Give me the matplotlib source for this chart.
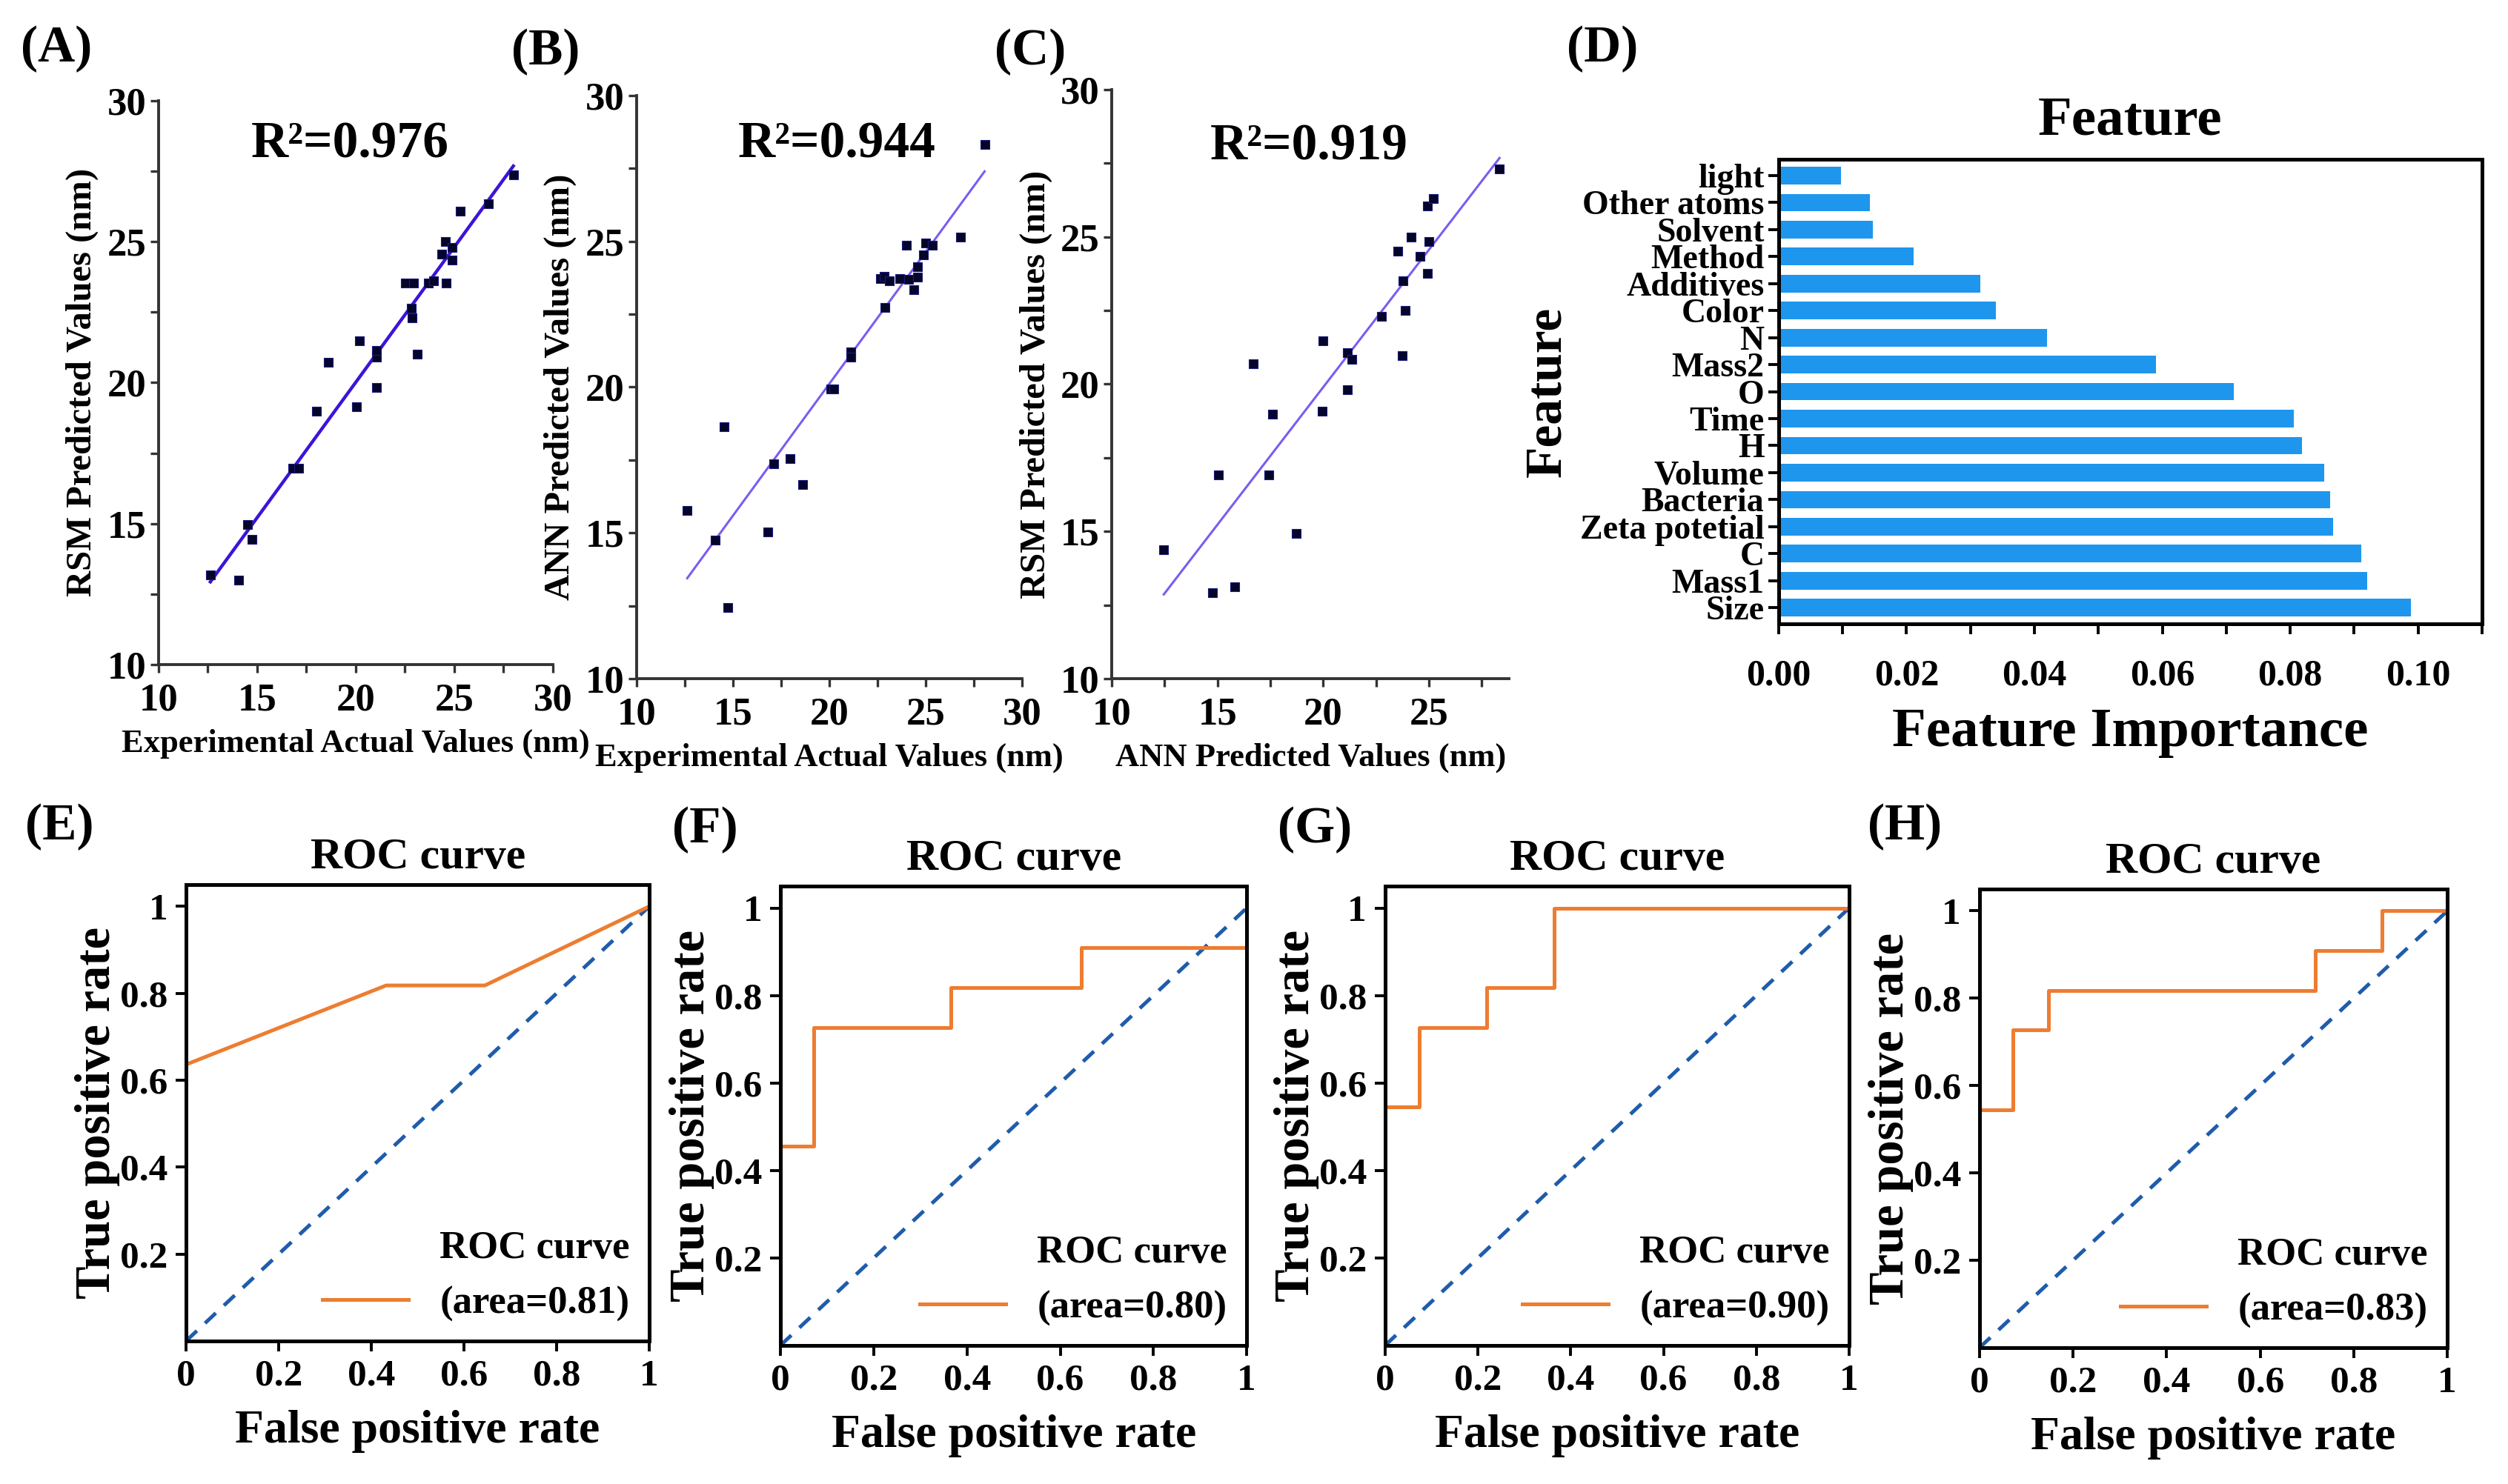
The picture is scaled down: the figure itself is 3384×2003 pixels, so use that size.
import numpy as np
import matplotlib
matplotlib.use("Agg")
import matplotlib.pyplot as plt
from matplotlib.ticker import MultipleLocator, FuncFormatter

plt.rcParams['font.family'] = ['Liberation Serif', 'DejaVu Serif']
plt.rcParams['font.weight'] = 'bold'
plt.rcParams['axes.labelweight'] = 'bold'
plt.rcParams['axes.titleweight'] = 'bold'

# ---- regression panels (A-C) ----
a_x = [12.63, 14.05, 14.53, 14.74, 16.81, 17.10, 18.02, 18.60, 20.04, 20.19, 21.07, 21.07,
       21.07, 22.53, 22.92, 22.82, 22.86, 23.11, 23.68, 23.97, 24.58, 24.36, 24.55, 24.88,
       24.91, 25.32, 26.74, 28.00]
a_y = [13.18, 12.99, 14.96, 14.43, 16.96, 16.96, 18.99, 20.73, 19.13, 21.48, 19.83, 20.90,
       21.13, 23.53, 23.53, 22.64, 22.30, 21.00, 23.53, 23.62, 23.53, 24.56, 25.00, 24.78,
       24.35, 26.09, 26.35, 27.36]

b_x = [12.63, 14.09, 14.55, 14.72, 16.83, 17.12, 17.98, 18.62, 20.08, 20.25, 21.12, 21.12,
       22.67, 22.84, 23.13, 22.88, 23.65, 24.00, 24.13, 24.37, 24.56, 24.59, 24.90, 24.99,
       25.33, 26.82, 28.06]
b_y = [15.77, 14.76, 18.64, 12.44, 15.02, 17.37, 17.54, 16.67, 19.93, 19.93, 21.20, 21.03,
       23.72, 23.80, 23.65, 22.73, 23.72, 24.87, 23.69, 23.35, 24.14, 23.77, 24.53, 24.95,
       24.87, 25.15, 28.32]

c_x = [12.46, 14.78, 15.06, 15.82, 16.70, 17.42, 17.59, 18.73, 19.97, 20.00, 21.14, 21.14,
       21.36, 22.77, 23.52, 23.74, 23.79, 23.87, 24.16, 24.58, 24.95, 25.00, 24.92, 25.20,
       28.35]
c_y = [14.38, 12.93, 16.92, 13.13, 20.68, 16.92, 18.97, 14.92, 19.08, 21.47, 19.80, 21.08,
       20.83, 22.30, 24.52, 20.97, 23.52, 22.50, 25.00, 24.33, 23.75, 24.85, 26.05, 26.30,
       27.30]

r2_labels = ['R²=0.976', 'R²=0.944', 'R²=0.919']
scatter_xlabels = ['Experimental Actual Values (nm)', 'Experimental Actual Values (nm)',
                   'ANN Predicted Values (nm)']
scatter_ylabels = ['RSM Predicted Values (nm)', 'ANN Predicted Values (nm)',
                   'RSM Predicted Values (nm)']

# ---- feature importance (D) ----
features = ['Size', 'Mass1', 'C', 'Zeta potetial', 'Bacteria', 'Volume', 'H', 'Time', 'O',
            'Mass2', 'N', 'Color', 'Additives', 'Method', 'Solvent', 'Other atoms', 'light']
importance = [0.0989, 0.0920, 0.0911, 0.0867, 0.0862, 0.0853, 0.0818, 0.0806, 0.0712,
              0.0590, 0.0420, 0.0340, 0.0315, 0.0211, 0.0147, 0.0143, 0.0098]

# ---- ROC curves (E-H) ----
e_fpr = [0.0, 0.432, 0.645, 1.0]
e_tpr = [0.636, 0.818, 0.818, 1.0]
f_fpr = [0.0, 0.072, 0.072, 0.365, 0.365, 0.645, 0.645, 1.0]
f_tpr = [0.455, 0.455, 0.727, 0.727, 0.818, 0.818, 0.909, 0.909]
g_fpr = [0.0, 0.074, 0.074, 0.219, 0.219, 0.364, 0.364, 1.0]
g_tpr = [0.545, 0.545, 0.727, 0.727, 0.818, 0.818, 1.0, 1.0]
h_fpr = [0.0, 0.071, 0.071, 0.147, 0.147, 0.718, 0.718, 0.861, 0.861, 1.0]
h_tpr = [0.545, 0.545, 0.727, 0.727, 0.818, 0.818, 0.909, 0.909, 1.0, 1.0]
roc_auc = ['0.81', '0.80', '0.90', '0.83']

fig = plt.figure(figsize=(16.92, 10.015), dpi=200)

scatter_rects = [[0.0632, 0.5522, 0.1572, 0.380],
                 [0.2538, 0.5427, 0.1537, 0.3929],
                 [0.4433, 0.5427, 0.1584, 0.3969]]
scatter_data = [(a_x, a_y), (b_x, b_y), (c_x, c_y)]
line_cols = ['#3c14d8', '#7b5cf0', '#7b5cf0']
line_w = [1.6, 1.1, 1.1]
xmaxes = [30, 30, 28.8]
r2_pos = [(0.485, 0.922), (0.519, 0.916), (0.496, 0.902)]

for i in range(3):
    ax = fig.add_axes(scatter_rects[i])
    xs, ys = np.array(scatter_data[i][0]), np.array(scatter_data[i][1])
    k, b = np.polyfit(xs, ys, 1)
    xl = np.array([xs.min(), xs.max()])
    ax.plot(xl, k * xl + b, color=line_cols[i], lw=line_w[i], zorder=2)
    ax.scatter(xs, ys, marker='s', s=16, color='#05052a', edgecolors='#1a1a80',
               linewidths=0.4, zorder=3)
    ax.set_xlim(10, xmaxes[i])
    ax.set_ylim(10, 30)
    ax.xaxis.set_major_locator(MultipleLocator(5))
    ax.xaxis.set_minor_locator(MultipleLocator(2.5))
    ax.yaxis.set_major_locator(MultipleLocator(5))
    ax.yaxis.set_minor_locator(MultipleLocator(2.5))
    for s in ['top', 'right']:
        ax.spines[s].set_visible(False)
    for s in ['left', 'bottom']:
        ax.spines[s].set_color('#333333')
        ax.spines[s].set_linewidth(1.4)
    ax.tick_params(which='both', direction='out', length=4, width=1.2, color='#333333',
                   labelsize=19, pad=2)
    ax.tick_params(axis='x', pad=5)
    ax.set_xlabel(scatter_xlabels[i], fontsize=16, labelpad=5)
    ax.set_ylabel(scatter_ylabels[i], fontsize=17.5, labelpad=4)
    ax.text(r2_pos[i][0], r2_pos[i][1], r2_labels[i], transform=ax.transAxes,
            ha='center', va='center', fontsize=25)

# feature importance
axd = fig.add_axes([0.7092, 0.5796, 0.2804, 0.3130])
ypos = np.arange(len(features))
axd.barh(ypos, importance, height=0.65, color='#1E96EE')
axd.set_yticks(ypos)
axd.set_yticklabels(features, fontsize=16.5)
axd.set_xlim(0, 0.11)
axd.set_ylim(-0.6, len(features) - 0.4)
axd.xaxis.set_major_locator(MultipleLocator(0.02))
axd.xaxis.set_minor_locator(MultipleLocator(0.01))
axd.xaxis.set_major_formatter(FuncFormatter(lambda v, p: '%.2f' % v))
axd.tick_params(which='both', direction='out', length=5, width=1.4, pad=2)
axd.tick_params(axis='x', labelsize=18, pad=12)
for s in axd.spines.values():
    s.set_linewidth(1.8)
axd.set_title('Feature', fontsize=27, pad=12)
axd.set_xlabel('Feature Importance', fontsize=27, labelpad=7)
axd.set_ylabel('Feature', fontsize=25, labelpad=4)

# ROC curves
roc_rects = [[0.0742, 0.0964, 0.1847, 0.3075],
             [0.3112, 0.0934, 0.1859, 0.3095],
             [0.5523, 0.0934, 0.1850, 0.3095],
             [0.7893, 0.0919, 0.1865, 0.3090]]
roc_data = [(e_fpr, e_tpr), (f_fpr, f_tpr), (g_fpr, g_tpr), (h_fpr, h_tpr)]
fmt = FuncFormatter(lambda v, p: '%g' % v)

for i in range(4):
    ax = fig.add_axes(roc_rects[i])
    ax.plot([0, 1], [0, 1], color='#1f5cab', lw=1.8, linestyle=(0, (4, 3)))
    ax.plot(roc_data[i][0], roc_data[i][1], color='#ED7D31', lw=1.8,
            label='(area=%s)' % roc_auc[i])
    ax.set_xlim(0, 1)
    ax.set_ylim(0, 1.05)
    ax.set_xticks([0, 0.2, 0.4, 0.6, 0.8, 1.0])
    ax.set_yticks([0.2, 0.4, 0.6, 0.8, 1.0])
    ax.xaxis.set_major_formatter(fmt)
    ax.yaxis.set_major_formatter(fmt)
    ax.tick_params(direction='out', length=5, width=1.4, labelsize=18.5, pad=4)
    for s in ax.spines.values():
        s.set_linewidth(1.8)
    ax.set_title('ROC curve', fontsize=21.5, pad=8)
    ax.set_xlabel('False positive rate', fontsize=23, labelpad=8)
    ax.set_ylabel('True positive rate', fontsize=24, labelpad=0)
    leg = ax.legend(loc='lower right', frameon=False, fontsize=19, title='ROC curve',
                    title_fontsize=19, handlelength=2.2, borderaxespad=0.1,
                    alignment='right')
    leg.get_title().set_fontweight('bold')

# panel letters
letters = ['(A)', '(B)', '(C)', '(D)', '(E)', '(F)', '(G)', '(H)']
letter_pos = [(0.0083, 0.967), (0.204, 0.965), (0.3966, 0.965), (0.6247, 0.967),
              (0.010, 0.443), (0.268, 0.441), (0.5095, 0.441), (0.7447, 0.443)]
for t, (px, py) in zip(letters, letter_pos):
    fig.text(px, py, t, fontsize=25, ha='left', va='center')

fig.savefig('out.png', dpi=200)
